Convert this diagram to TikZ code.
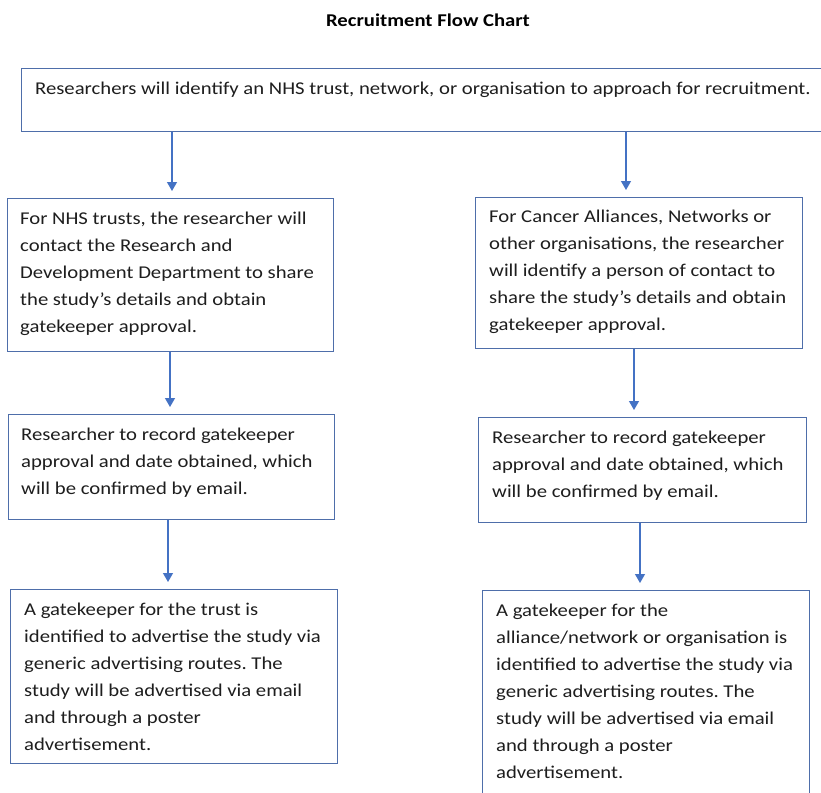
\documentclass[tikz,border=0pt]{standalone}
\usepackage{fontspec}
\setmainfont{Carlito}[FakeStretch=1.15]
\usetikzlibrary{arrows.meta}
\definecolor{boxblue}{RGB}{78,110,170}
\definecolor{arrblue}{RGB}{68,114,196}
\definecolor{txtgrey}{RGB}{30,30,30}
\tikzset{
  flowbox/.style={draw=boxblue, line width=1.3pt, fill=white, inner sep=0pt, anchor=north west},
  flowtxt/.style={inner sep=0pt, anchor=base west, text=txtgrey, font=\fontsize{18}{27.1}\selectfont\frenchspacing},
  titletxt/.style={inner sep=0pt, anchor=base, text=black, font=\fontsize{18}{20}\selectfont\bfseries},
  flowarr/.style={draw=arrblue, line width=1.2pt, -{Triangle[width=10pt,length=9pt]}, shorten >=7pt}
}
\newcommand{\ptext}[1]{\parbox[t]{400pt}{\raggedright\frenchspacing #1}}
\begin{document}
\begin{tikzpicture}[x=1pt,y=-1pt]
\useasboundingbox (0,0) rectangle (821,792);
\clip (0,0) rectangle (821,792);
\fill[white] (0,0) rectangle (821,792);

\node[titletxt] (title) at (428,27) {Recruitment Flow Chart};

\node[flowbox, minimum width=815pt, minimum height=63pt] (top) at (21,68) {};
\node[flowtxt] (topt) at ([xshift=14pt,yshift=-26pt]top.north west) {\parbox[t]{850pt}{Researchers will identify an NHS trust, network, or organisation to approach for recruitment.}};

\node[flowbox, minimum width=326pt, minimum height=153pt] (l1) at (7,198) {};
\node[flowtxt] (l1t) at ([xshift=13pt,yshift=-26pt]l1.north west) {\ptext{For NHS trusts, the researcher will\\contact the Research and\\Development Department to share\\the study’s details and obtain\\gatekeeper approval.}};

\node[flowbox, minimum width=327pt, minimum height=151pt] (r1) at (475,197) {};
\node[flowtxt] (r1t) at ([xshift=14pt,yshift=-25pt]r1.north west) {\ptext{For Cancer Alliances, Networks or\\other organisations, the researcher\\will identify a person of contact to\\share the study’s details and obtain\\gatekeeper approval.}};

\node[flowbox, minimum width=326pt, minimum height=105pt] (l2) at (8,414) {};
\node[flowtxt] (l2t) at ([xshift=13pt,yshift=-26pt]l2.north west) {\ptext{Researcher to record gatekeeper\\approval and date obtained, which\\will be confirmed by email.}};

\node[flowbox, minimum width=328pt, minimum height=105pt] (r2) at (478,417) {};
\node[flowtxt] (r2t) at ([xshift=14pt,yshift=-26pt]r2.north west) {\ptext{Researcher to record gatekeeper\\approval and date obtained, which\\will be confirmed by email.}};

\node[flowbox, minimum width=327pt, minimum height=174pt] (l3) at (10,589) {};
\node[flowtxt] (l3t) at ([xshift=14pt,yshift=-26pt]l3.north west) {\ptext{A gatekeeper for the trust is\\identified to advertise the study via\\generic advertising routes. The\\study will be advertised via email\\and through a poster\\advertisement.}};

\node[flowbox, minimum width=327pt, minimum height=230pt] (r3) at (482,590) {};
\node[flowtxt] (r3t) at ([xshift=14pt,yshift=-26pt]r3.north west) {\ptext{A gatekeeper for the\\alliance/network or organisation is\\identified to advertise the study via\\generic advertising routes. The\\study will be advertised via email\\and through a poster\\advertisement.}};

\draw[flowarr] (top.south -| 172,0) -- (l1.north -| 172,0);
\draw[flowarr] (top.south -| 626,0) -- (r1.north -| 626,0);
\draw[flowarr] (l1.south -| 170,0) -- (l2.north -| 170,0);
\draw[flowarr] (r1.south -| 634,0) -- (r2.north -| 634,0);
\draw[flowarr] (l2.south -| 168,0) -- (l3.north -| 168,0);
\draw[flowarr] (r2.south -| 640,0) -- (r3.north -| 640,0);
\end{tikzpicture}
\end{document}
